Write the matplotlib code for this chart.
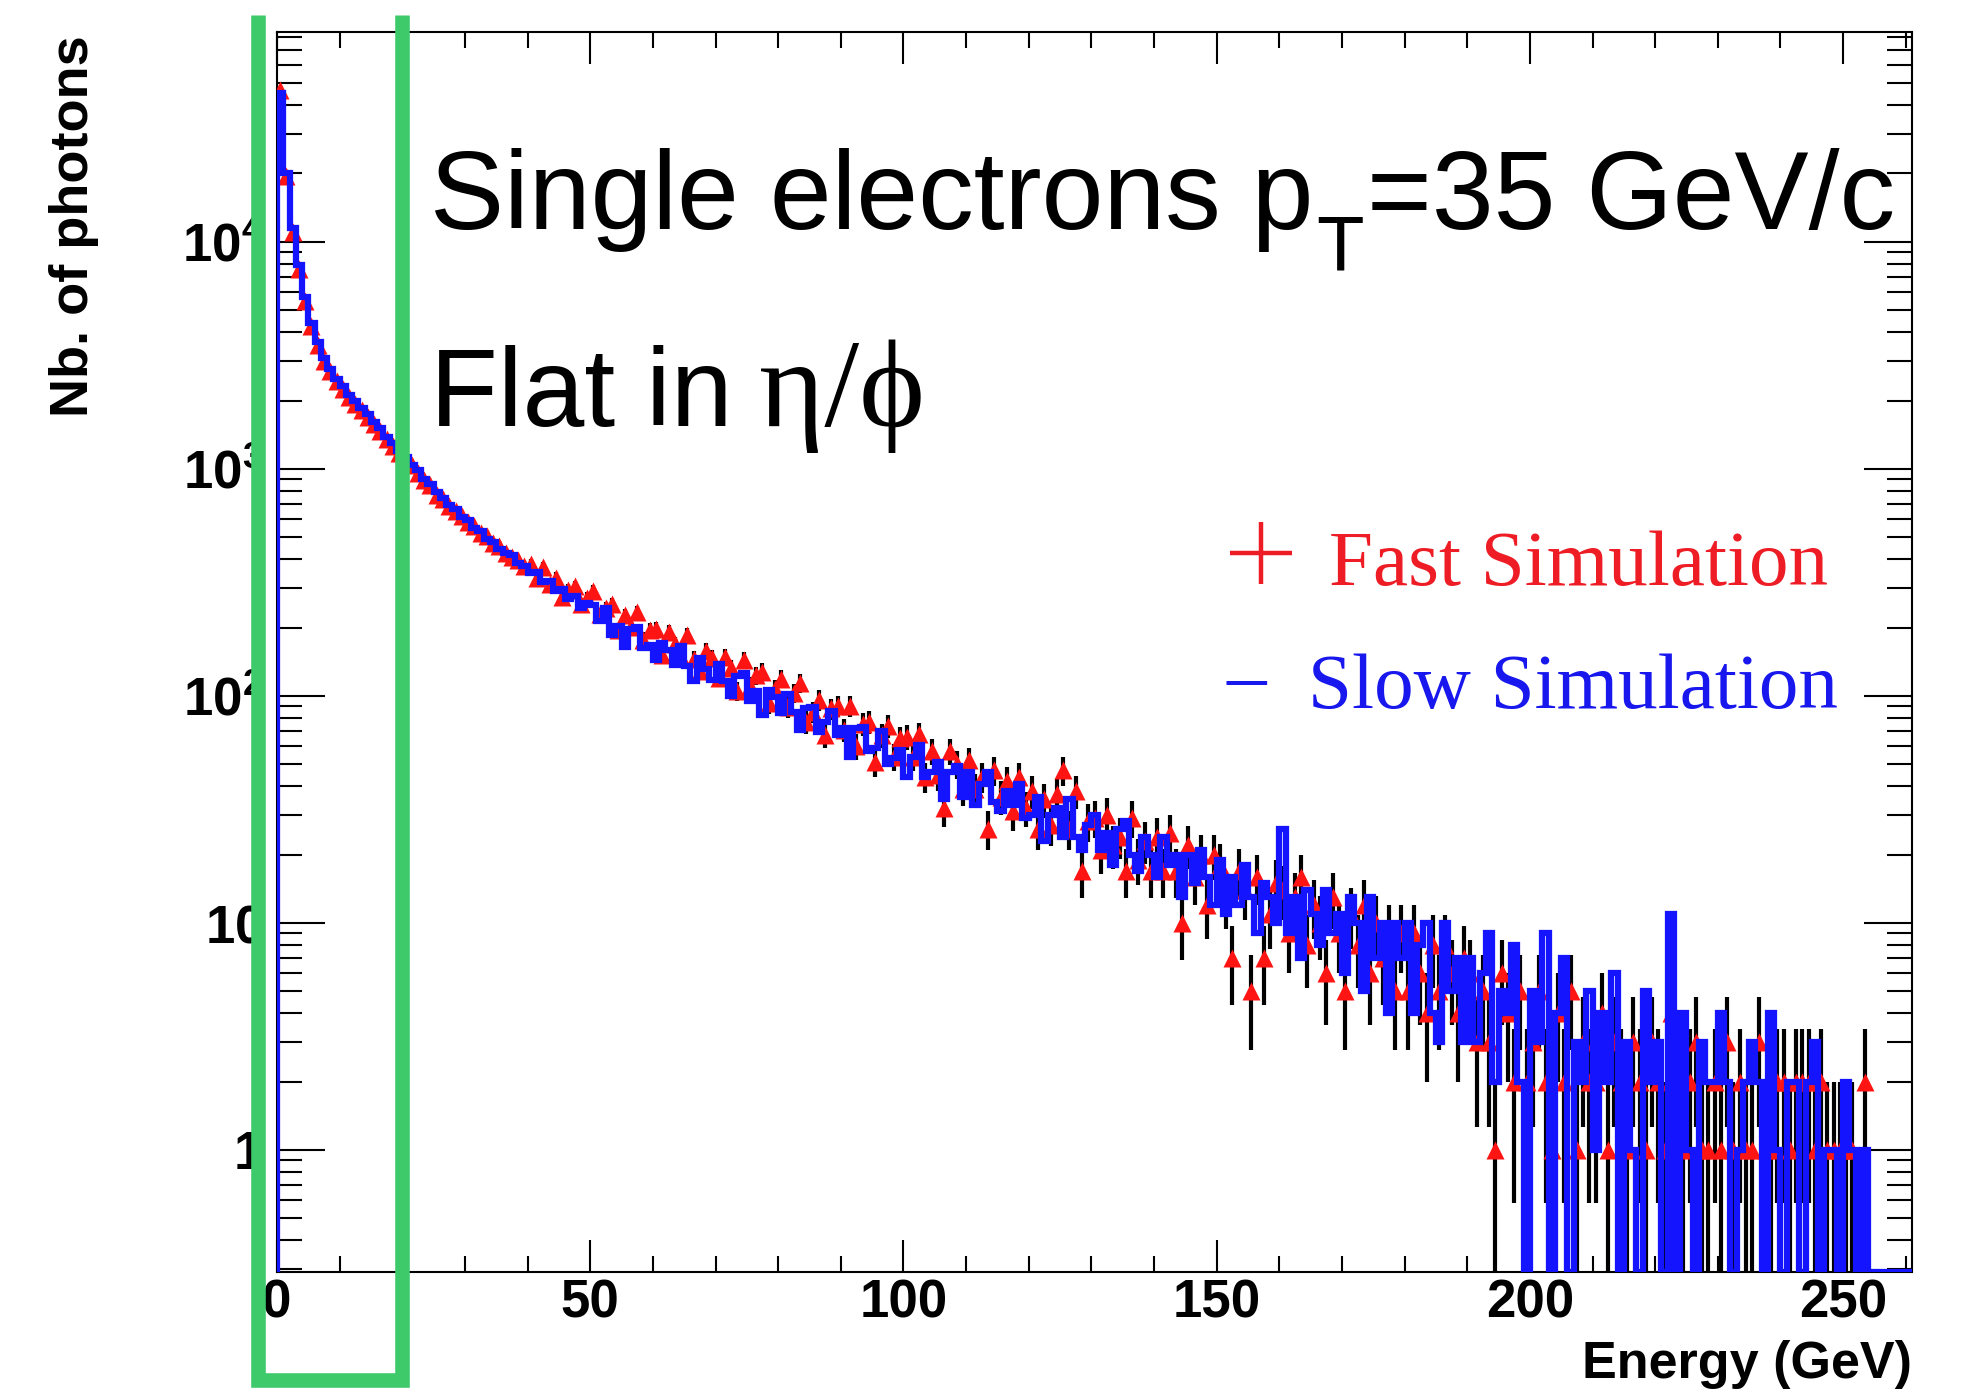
import numpy as np
import matplotlib
matplotlib.use("Agg")
import matplotlib.pyplot as plt
from matplotlib.lines import Line2D
from matplotlib.ticker import MultipleLocator, LogLocator, NullFormatter

plt.rcParams['font.family'] = ['Liberation Sans', 'DejaVu Sans']
plt.rcParams['mathtext.fontset'] = 'custom'
plt.rcParams['mathtext.rm'] = 'Liberation Sans'
plt.rcParams['mathtext.bf'] = 'Liberation Sans:bold'
plt.rcParams['mathtext.it'] = 'Liberation Sans:italic'

# photon energy spectrum, 1 GeV bins starting at 0
bin_width = 1.0

# Slow (full) simulation, counts per bin
slow = [
    45200, 20000, 11500, 7900, 5700, 4380, 3620, 3080, 2760, 2490,
    2310, 2120, 2000, 1850, 1745, 1610, 1510, 1385, 1300, 1195,
    1125, 1040, 985, 905, 860, 790, 745, 690, 668, 615,
    595, 548, 530, 492, 478, 445, 425, 418, 385, 372,
    348, 352, 317, 322, 291, 296, 268, 276, 244, 256,
    252, 213, 243, 185, 204, 165, 198, 201, 162, 167,
    144, 171, 160, 137, 166, 135, 116, 147, 131, 117,
    138, 116, 100, 122, 126, 95, 105, 82, 106, 99,
    84, 102, 85, 71, 88, 89, 69, 77, 86, 67,
    72, 54, 72, 73, 57, 59, 70, 50, 53, 58,
    44, 54, 61, 44, 46, 51, 35, 46, 49, 36,
    46, 33, 41, 46, 34, 31, 38, 33, 41, 29,
    30, 36, 23, 30, 32, 24, 35, 24, 21, 27,
    30, 21, 25, 18, 26, 28, 20, 17, 24, 20,
    16, 24, 18, 20, 13, 20, 15, 21, 16, 12,
    19, 11, 16, 12, 18, 13, 9, 15, 13, 10,
    26, 9, 13, 7, 14, 11, 8, 14, 9, 11,
    6, 13, 10, 5, 13, 7, 10, 4, 10, 7,
    10, 4, 8, 10, 4, 3, 10, 5, 7, 3,
    7, 3, 6, 9, 2, 5, 4, 8, 2, 0,
    5, 3, 9, 0, 4, 7, 0, 3, 2, 5,
    1, 4, 2, 6, 0, 3, 1, 0, 5, 2,
    3, 0, 11, 0, 4, 1, 0, 3, 2, 2,
    4, 2, 0, 1, 2, 3, 2, 0, 4, 1,
    0, 2, 2, 0, 2, 3, 0, 1, 1, 0,
    2, 1, 0, 1, 0, 0, 0, 0, 0, 0,
    0,
]

# Fast simulation, counts per bin
fast = [
    46500, 19500, 11000, 7600, 5500, 4250, 3500, 3000, 2700, 2450,
    2250, 2080, 1930, 1810, 1690, 1580, 1470, 1350, 1265, 1170,
    1090, 1035, 960, 890, 845, 770, 735, 688, 650, 618,
    585, 560, 521, 505, 470, 458, 428, 410, 398, 372,
    381, 330, 368, 312, 332, 274, 294, 304, 253, 271,
    291, 229, 244, 255, 195, 227, 201, 233, 177, 196,
    198, 151, 192, 169, 149, 185, 146, 129, 158, 147,
    120, 149, 133, 105, 144, 111, 123, 128, 93, 107,
    119, 89, 103, 114, 77, 85, 96, 67, 88, 90,
    71, 90, 60, 75, 77, 51, 67, 74, 54, 65,
    66, 54, 68, 44, 57, 45, 32, 57, 50, 39,
    52, 39, 44, 26, 47, 36, 42, 31, 44, 32,
    38, 26, 35, 27, 37, 47, 26, 38, 17, 28,
    29, 21, 30, 22, 24, 17, 29, 19, 23, 17,
    24, 17, 25, 17, 10, 22, 16, 20, 12, 20,
    18, 13, 7, 17, 14, 5, 16, 7, 11, 15,
    14, 9, 13, 16, 8, 12, 10, 6, 13, 9,
    5, 11, 8, 12, 6, 10, 7, 9, 5, 9,
    5, 9, 6, 4, 8, 5, 8, 6, 4, 7,
    6, 3, 5, 3, 1, 6, 4, 2, 5, 2,
    3, 5, 2, 1, 4, 2, 5, 1, 3, 2,
    2, 4, 1, 3, 2, 1, 3, 2, 1, 3,
    2, 1, 4, 2, 1, 2, 3, 1, 1, 2,
    1, 3, 1, 2, 1, 1, 3, 1, 1, 2,
    2, 1, 2, 2, 2, 1, 2, 1, 1, 1,
    1, 1, 0, 2, 0, 0, 0, 0, 0, 0,
    0,
]

xticks = [0, 50, 100, 150, 200, 250]
yticks = [1, 10, 100, 1000, 10000]
ytick_labels = [r'$\mathbf{1}$', r'$\mathbf{10}$', r'$\mathbf{10^{2}}$',
                r'$\mathbf{10^{3}}$', r'$\mathbf{10^{4}}$']

slow = np.array(slow, dtype=float)
fast = np.array(fast, dtype=float)
edges = np.arange(len(slow) + 1) * bin_width
centers = edges[:-1] + bin_width / 2

W, H = 1966, 1395
fig = plt.figure(figsize=(W / 100, H / 100), dpi=100)
ax = fig.add_axes([277 / W, 1 - 1272 / H, (1912 - 277) / W, (1272 - 32) / H])
ax.set_yscale('log')
ymin, ymax = 0.29, 8.4e4
ax.set_xlim(edges[0], edges[-1])
ax.set_ylim(ymin, ymax)

# fast simulation: black error bars + red triangles
m = fast > 0
ax.errorbar(centers[m], fast[m], yerr=np.sqrt(fast[m]), fmt='none',
            ecolor='black', elinewidth=3, capsize=0, zorder=2)
ax.plot(centers[m], fast[m], '^', color='#ff1414', ms=13, mec='none', zorder=3)

# slow simulation: blue histogram, empty bins drawn on the floor like ROOT
ax.stairs(np.maximum(slow, ymin), edges, baseline=ymin, color='#1414ff',
          lw=4.5, zorder=4)

ax.xaxis.set_minor_locator(MultipleLocator(10))
ax.set_xticks(xticks, labels=[str(v) for v in xticks], fontsize=38, fontweight='bold')
ax.set_yticks(yticks, labels=ytick_labels, fontsize=38)
ax.yaxis.set_minor_locator(LogLocator(base=10, subs=np.arange(2, 10), numticks=30))
ax.yaxis.set_minor_formatter(NullFormatter())

ax.tick_params(axis='x', which='major', direction='in', length=23, width=1.5,
               top=True, pad=5)
ax.tick_params(axis='x', which='minor', direction='in', length=11.5, width=1.5, top=True)
ax.tick_params(axis='y', which='major', direction='in', length=34.5, width=1.5,
               right=True, pad=10)
ax.tick_params(axis='y', which='minor', direction='in', length=18, width=1.5, right=True)
for s in ax.spines.values():
    s.set_linewidth(1.5)

fig.text(74 / W, 1 - 35 / H, 'Nb. of photons', rotation=90, ha='center', va='top',
         fontsize=39, fontweight='bold')
fig.text(1912 / W, 1 - 1378 / H, 'Energy (GeV)', ha='right', va='baseline',
         fontsize=37.5, fontweight='bold')

# big annotation lines, pieces placed one after another
r = fig.canvas.get_renderer()


def right_of(t, gap_px):
    return (t.get_window_extent(renderer=r).x1 + gap_px) / W


t_a = fig.text(430 / W, 1 - 229 / H, 'Single electrons p', fontsize=80, va='baseline')
t_b = fig.text(right_of(t_a, 3), 1 - 270 / H, 'T', fontsize=56, va='baseline')
fig.text(right_of(t_b, 3), 1 - 229 / H, '=35 GeV/c', fontsize=80, va='baseline')

serif = ['Liberation Serif', 'DejaVu Serif']
t1 = fig.text(430 / W, 1 - 426 / H, 'Flat in', fontsize=80, va='baseline')
fig.text(right_of(t1, 26), 1 - 426 / H, 'η/ϕ', fontsize=90, va='baseline', family=serif)

red_txt, blue_txt = '#ee1c25', '#1717ee'
fig.add_artist(Line2D([1261 / W], [1 - 553 / H], transform=fig.transFigure, marker='+',
                      ms=45, mew=3.2, color=red_txt, ls='none'))
fig.text(1329 / W, 1 - 585 / H, 'Fast Simulation', fontsize=57, color=red_txt,
         family=serif, va='baseline')
fig.text(1246 / W, 1 - 701 / H, '–', ha='center', va='baseline', fontsize=57,
         color=blue_txt, family=serif)
fig.text(1308 / W, 1 - 708 / H, 'Slow Simulation', fontsize=57, color=blue_txt,
         family=serif, va='baseline')

# green highlight box (open at the top)
gx = [258 / W, 258 / W, 402 / W, 402 / W]
gy = [1 - 15 / H, 1 - 1380 / H, 1 - 1380 / H, 1 - 15 / H]
fig.add_artist(Line2D(gx, gy, transform=fig.transFigure, color='#3ec96b', lw=10.5,
                      solid_joinstyle='miter', solid_capstyle='butt', zorder=10))

fig.savefig('out.png', dpi=100, facecolor='white')
